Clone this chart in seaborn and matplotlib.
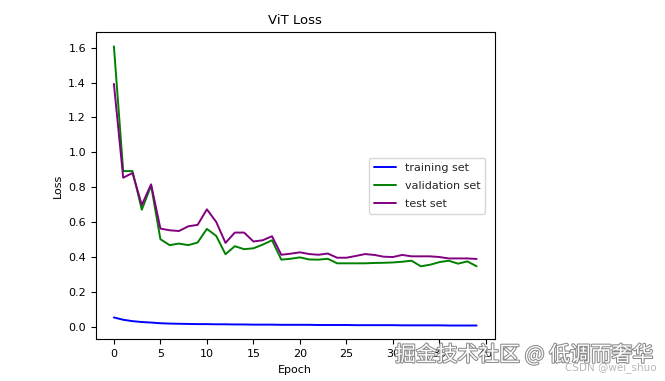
import numpy as np
import pandas as pd
import matplotlib
matplotlib.use("Agg")
import matplotlib.pyplot as plt
import matplotlib.patheffects as pe
import seaborn as sns

# loss values, epochs 0..39
epochs = list(range(40))
train_loss = [0.055, 0.042, 0.034, 0.029, 0.026, 0.022, 0.020, 0.019, 0.018, 0.017,
              0.017, 0.016, 0.016, 0.015, 0.015, 0.014, 0.014, 0.014, 0.013, 0.013,
              0.013, 0.013, 0.012, 0.012, 0.012, 0.012, 0.011, 0.011, 0.011, 0.011,
              0.011, 0.010, 0.010, 0.010, 0.010, 0.010, 0.009, 0.009, 0.009, 0.009]
val_loss = [1.607, 0.893, 0.893, 0.672, 0.810, 0.503, 0.469, 0.478, 0.469, 0.484,
            0.562, 0.522, 0.417, 0.463, 0.446, 0.451, 0.472, 0.497, 0.386, 0.391,
            0.399, 0.387, 0.386, 0.391, 0.365, 0.365, 0.365, 0.365, 0.367, 0.368,
            0.370, 0.374, 0.380, 0.348, 0.357, 0.372, 0.380, 0.363, 0.376, 0.348]
test_loss = [1.392, 0.855, 0.882, 0.699, 0.817, 0.564, 0.554, 0.550, 0.577, 0.585,
             0.674, 0.602, 0.482, 0.541, 0.541, 0.490, 0.497, 0.520, 0.414, 0.420,
             0.428, 0.418, 0.414, 0.421, 0.397, 0.397, 0.407, 0.418, 0.413, 0.403,
             0.401, 0.413, 0.405, 0.405, 0.405, 0.401, 0.393, 0.393, 0.393, 0.390]
series_names = ["training set", "validation set", "test set"]
series_colors = ["blue", "green", "purple"]

df = pd.DataFrame({
    "Epoch": epochs * 3,
    "Loss": train_loss + val_loss + test_loss,
    "set": np.repeat(series_names, len(epochs)),
})

sns.set_style("ticks")
plt.rcParams["font.family"] = ["DejaVu Sans"]
plt.rcParams["font.size"] = 8

fig = plt.figure(figsize=(6.65, 3.81), dpi=100)
ax = fig.add_axes([0.144, 0.109, 0.600, 0.806])

sns.lineplot(data=df, x="Epoch", y="Loss", hue="set", hue_order=series_names,
             palette=series_colors, linewidth=1.4, ax=ax)

ax.set_title("ViT Loss", fontsize=9.5, color="black")
ax.set_xlabel("Epoch", fontsize=8, color="black")
ax.set_ylabel("Loss", fontsize=8, color="black")
ax.set_xticks(range(0, 41, 5))
ax.tick_params(labelsize=8, colors="black", length=3.5, width=0.8)
for sp in ax.spines.values():
    sp.set_color("black")
    sp.set_linewidth(0.8)
ax.legend(title=None, loc="center right", fontsize=8, frameon=True,
          labelspacing=0.75, borderaxespad=0.9)

# watermarks (they sit over the last x tick labels, as in the source image)
fig.text(0.594, 0.068, "掘金技术社区 @ 低调而奢华", fontsize=15,
         family=["Noto Sans CJK SC", "DejaVu Sans"], color="white",
         va="center", ha="left",
         path_effects=[pe.withStroke(linewidth=1.5, foreground="#8a8a8a")])
fig.text(0.988, 0.034, "CSDN @wei_shuo", fontsize=7.5, color="#b8b8b8",
         ha="right", va="center")

fig.savefig("out.png", dpi=100)
